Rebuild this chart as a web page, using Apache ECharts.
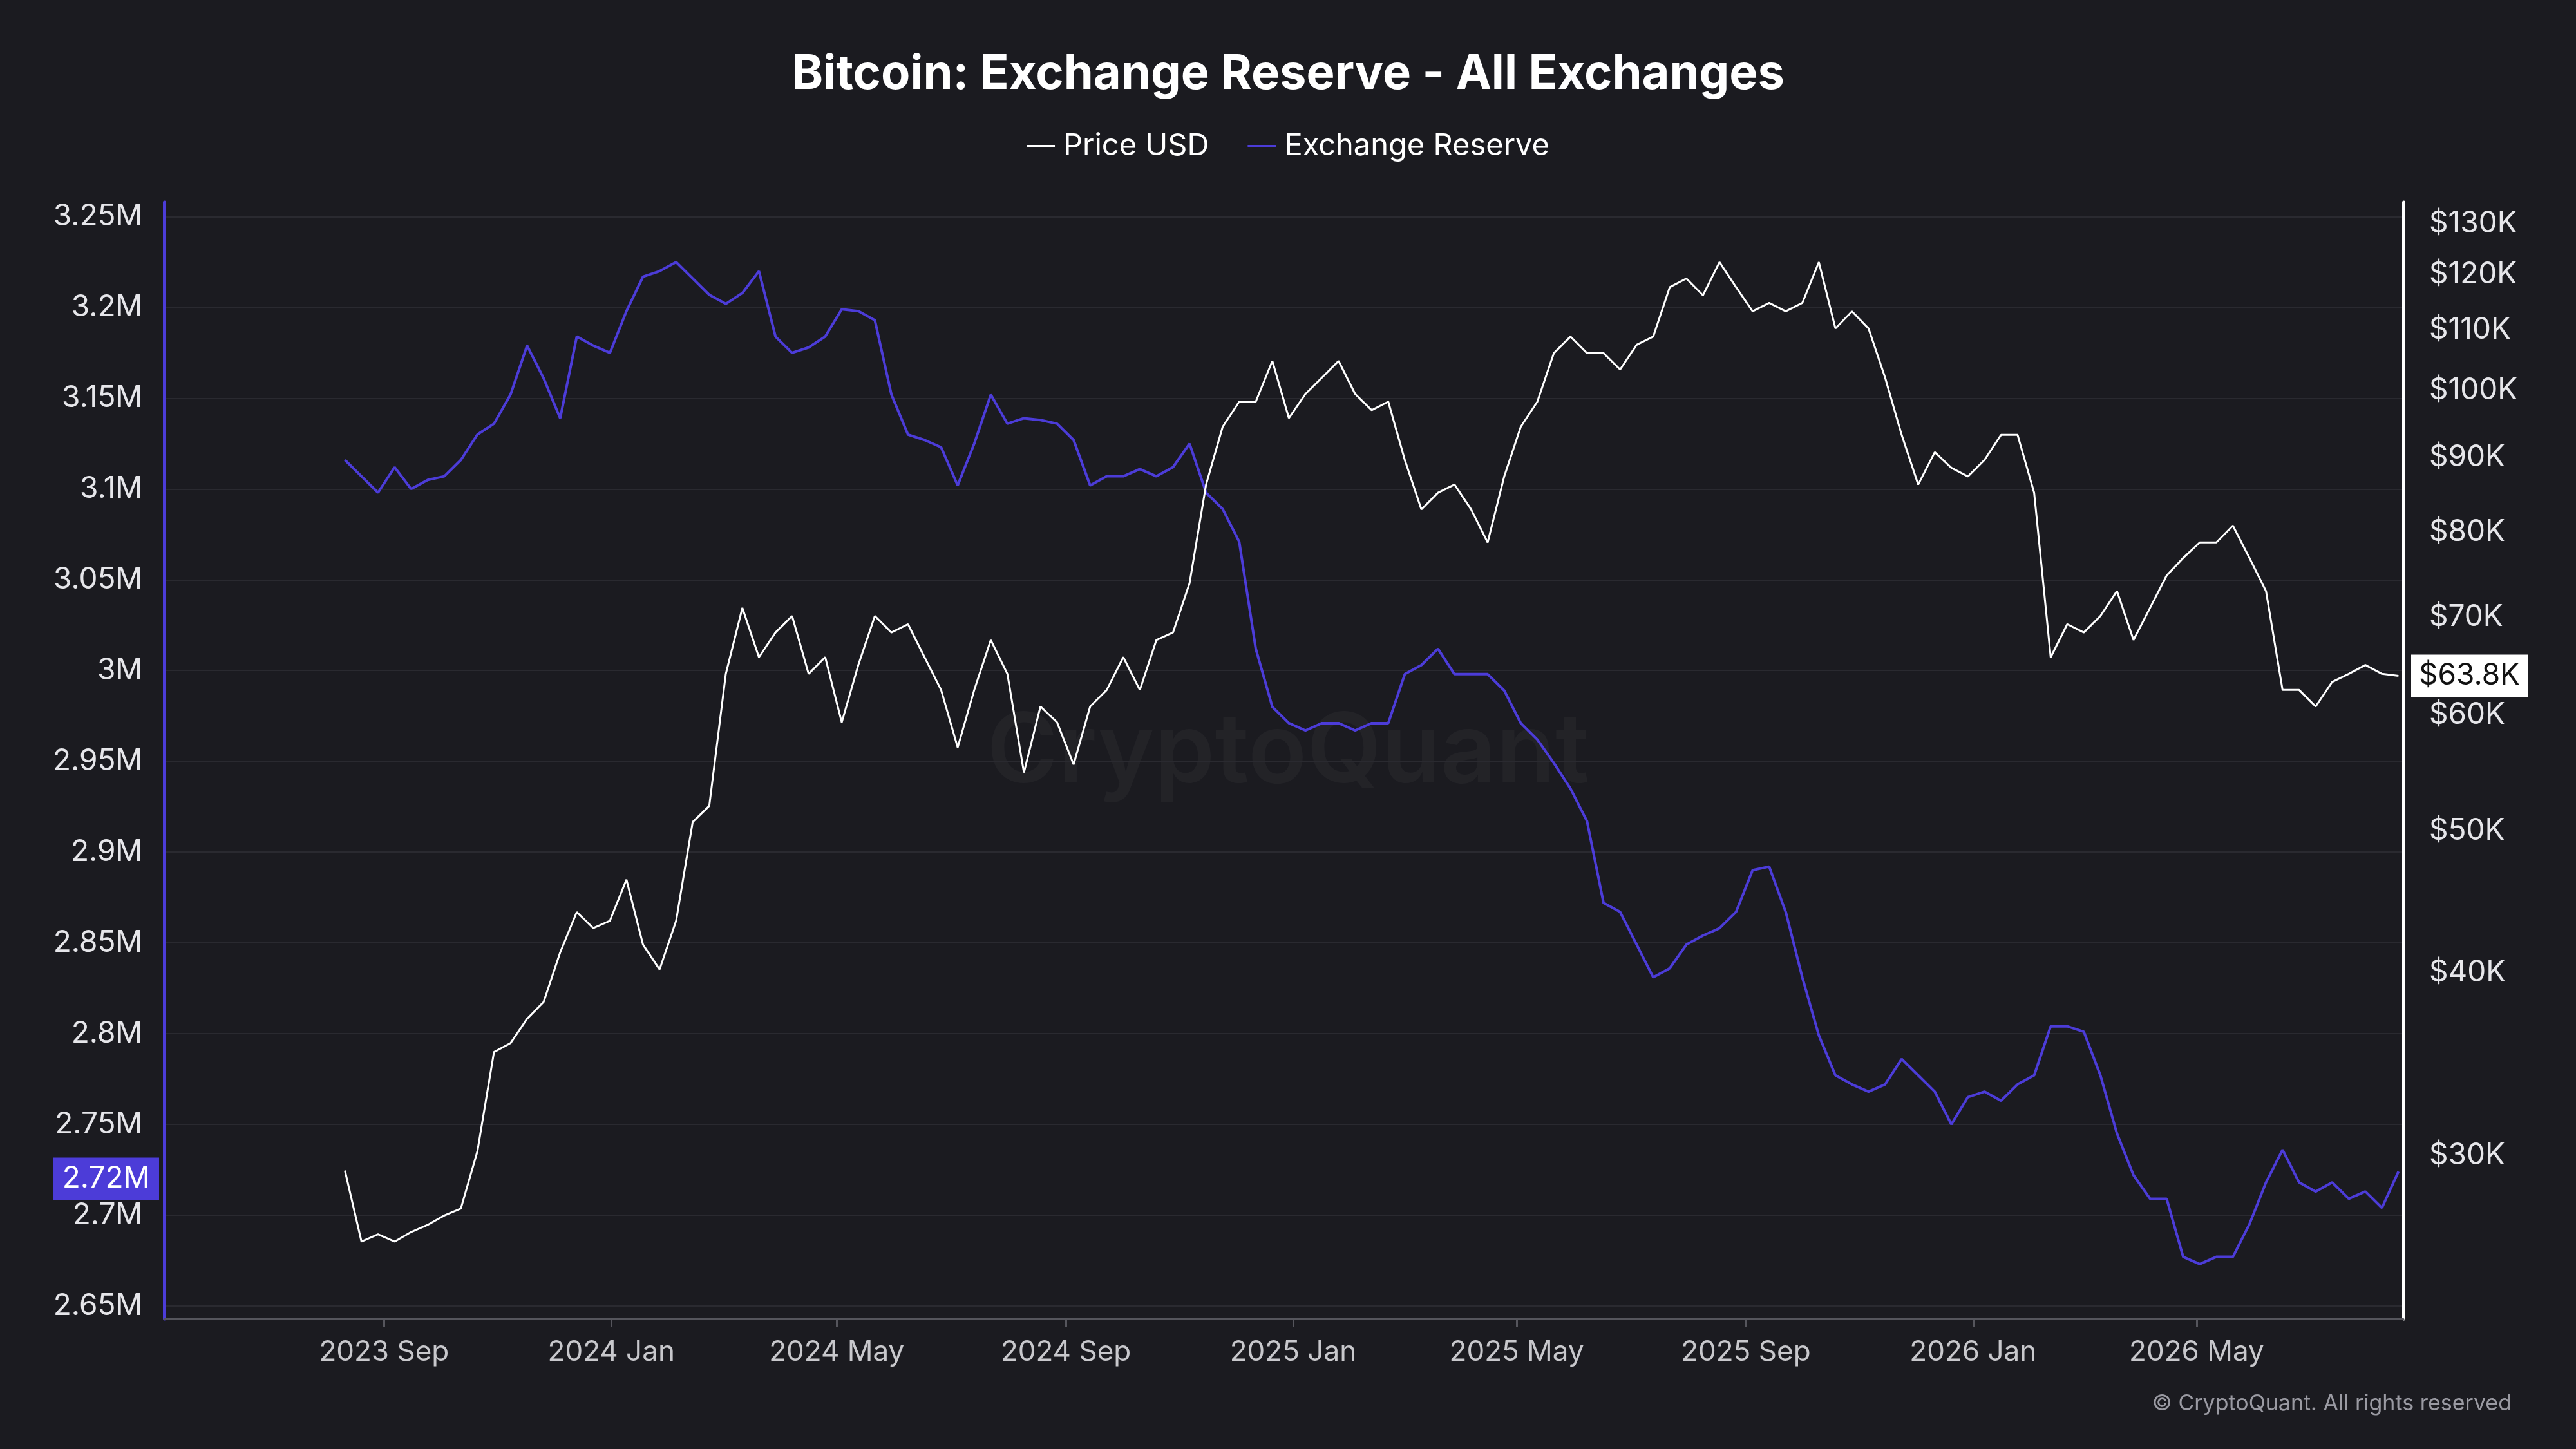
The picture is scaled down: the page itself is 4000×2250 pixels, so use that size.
<!DOCTYPE html>
<html><head><meta charset="utf-8">
<script src="https://cdn.jsdelivr.net/npm/echarts@6/dist/echarts.min.js"></script>
<style>html,body{margin:0;background:#1b1b20}#c{width:4000px;height:2250px}</style>
</head><body><div id="c"></div>
<script>
const startDate = '2023-08-11';
const stepDays = 8.89;
const priceUSD_K = [29.3,26.2,26.5,26.2,26.6,26.9,27.3,27.6,30.2,35.3,35.8,37.2,38.2,41.3,44.0,42.9,43.4,46.3,41.8,40.2,43.4,50.7,52.0,64.0,71.0,65.7,68.3,70.1,64.0,65.7,59.3,64.9,70.1,68.3,69.2,65.7,62.4,57.0,62.4,67.5,64.0,54.8,60.8,59.3,55.5,60.8,62.4,65.7,62.4,67.5,68.3,73.8,86.2,94.4,98.2,98.2,104.7,95.7,99.4,102.0,104.7,99.4,96.9,98.2,89.6,82.9,85.1,86.2,82.9,78.7,87.3,94.4,98.2,106.0,108.8,106.0,106.0,103.3,107.4,108.8,117.6,119.2,116.1,122.3,117.6,113.2,114.7,113.2,114.7,122.3,110.2,113.2,110.2,102.0,93.2,86.2,90.7,88.5,87.3,89.6,93.2,93.2,85.1,65.7,69.2,68.3,70.1,72.9,67.5,71.0,74.7,76.8,78.7,78.7,80.8,76.8,72.9,62.4,62.4,60.8,63.2,64.0,64.9,64.0,63.8];
const reserveM = [3.116,3.107,3.098,3.112,3.100,3.105,3.107,3.116,3.130,3.136,3.152,3.179,3.161,3.139,3.184,3.179,3.175,3.198,3.217,3.220,3.225,3.216,3.207,3.202,3.208,3.220,3.184,3.175,3.178,3.184,3.199,3.198,3.193,3.152,3.130,3.127,3.123,3.102,3.125,3.152,3.136,3.139,3.138,3.136,3.127,3.102,3.107,3.107,3.111,3.107,3.112,3.125,3.098,3.089,3.071,3.012,2.980,2.971,2.967,2.971,2.971,2.967,2.971,2.971,2.998,3.003,3.012,2.998,2.998,2.998,2.989,2.971,2.962,2.949,2.935,2.917,2.872,2.867,2.849,2.831,2.836,2.849,2.854,2.858,2.867,2.890,2.892,2.867,2.831,2.799,2.777,2.772,2.768,2.772,2.786,2.777,2.768,2.750,2.765,2.768,2.763,2.772,2.777,2.804,2.804,2.801,2.777,2.745,2.722,2.709,2.709,2.677,2.673,2.677,2.677,2.695,2.718,2.736,2.718,2.713,2.718,2.709,2.713,2.704,2.724];
const xTickLabels = ['2023-09-01','2024-01-01','2024-05-01','2024-09-01','2025-01-01','2025-05-01','2025-09-01','2026-01-01','2026-05-01'];
const leftTicks = [2.65,2.7,2.75,2.8,2.85,2.9,2.95,3.0,3.05,3.1,3.15,3.2,3.25];
const rightTicks = [30000,40000,50000,60000,70000,80000,90000,100000,110000,120000,130000];
const months = ['Jan','Feb','Mar','Apr','May','Jun','Jul','Aug','Sep','Oct','Nov','Dec'];

const t0 = Date.parse(startDate+'T00:00:00Z');
const dates = priceUSD_K.map((_, i) => t0 + i*stepDays*86400000);
const priceData = priceUSD_K.map((v,i)=>[dates[i], v*1000]);
const resData = reserveM.map((v,i)=>[dates[i], v]);
const xTicks = xTickLabels.map(d=>Date.parse(d+'T00:00:00Z'));
const lastPrice = priceUSD_K[priceUSD_K.length-1]*1000;
const lastRes = reserveM[reserveM.length-1];
const FONT = 'Inter';
const chart = echarts.init(document.getElementById('c'));
chart.setOption({
  animation:false,
  backgroundColor:'#1b1b20',
  textStyle:{fontFamily:FONT},
  title:{text:'Bitcoin: Exchange Reserve - All Exchanges',left:'center',top:74,
    textStyle:{color:'#ffffff',fontSize:74,fontWeight:'bold',fontFamily:FONT}},
  legend:{top:198,left:'center',itemWidth:44,itemHeight:3,itemGap:60,icon:'rect',
    textStyle:{color:'#ffffff',fontSize:47,fontFamily:FONT,padding:[0,0,0,8]},
    data:[{name:'Price USD',itemStyle:{color:'#ffffff'}},{name:'Exchange Reserve',itemStyle:{color:'#4c3cd8'}}]},
  grid:{left:255,right:268,top:314,bottom:202},
  graphic:[
    {type:'text',left:'center',top:1095,style:{text:'CryptoQuant',fill:'rgba(255,255,255,0.035)',font:'600 150px Inter'}},
    {type:'text',right:100,top:2163,style:{text:'© CryptoQuant. All rights reserved',fill:'#9a9aa2',font:'34px Inter'}}
  ],
  xAxis:{type:'value',min:Date.parse('2023-05-06T00:00:00Z'),max:Date.parse('2026-08-20T00:00:00Z'),
    axisLine:{show:true,lineStyle:{color:'#55555c',width:3}},
    axisTick:{show:true,customValues:xTicks,length:12,lineStyle:{color:'#55555c',width:3}},
    splitLine:{show:false},
    axisLabel:{customValues:xTicks,color:'#c8c8cc',fontSize:44,margin:30,
      formatter:v=>{const d=new Date(v);return d.getUTCFullYear()+' '+months[d.getUTCMonth()];}}},
  yAxis:[
    {type:'value',position:'left',min:2.6428,max:3.258,
      axisLine:{show:true,lineStyle:{color:'#4c3cd8',width:5}},
      axisTick:{show:false,customValues:leftTicks},
      splitLine:{show:true,lineStyle:{color:'#2a2a30',width:2}},
      axisLabel:{customValues:leftTicks,color:'#e6e6ea',fontSize:46,margin:34,
        formatter:v=>(+v.toFixed(2))+'M'}},
    {type:'log',position:'right',min:23200,max:134400,
      axisLine:{show:true,lineStyle:{color:'#ffffff',width:5}},
      axisTick:{show:false},splitLine:{show:false},
      axisLabel:{customValues:rightTicks,color:'#e6e6ea',fontSize:46,margin:40,
        formatter:v=>'$'+Math.round(v/1000)+'K'}}
  ],
  series:[
    {name:'Price USD',type:'line',yAxisIndex:1,data:priceData,showSymbol:false,
      lineStyle:{color:'#ffffff',width:3},itemStyle:{color:'#ffffff'},z:3,
      markLine:{symbol:'none',silent:true,lineStyle:{color:'rgba(0,0,0,0)',width:1,type:'solid'},
        data:[{yAxis:lastPrice,label:{show:true,position:'end',distance:12,backgroundColor:'#ffffff',color:'#111',
          fontSize:46,fontFamily:FONT,padding:[10,12],formatter:'$'+(lastPrice/1000).toFixed(1)+'K'}}]}},
    {name:'Exchange Reserve',type:'line',yAxisIndex:0,data:resData,showSymbol:false,
      lineStyle:{color:'#4c3cd8',width:4},itemStyle:{color:'#4c3cd8'},z:2,
      markLine:{symbol:'none',silent:true,lineStyle:{color:'rgba(0,0,0,0)',width:1,type:'solid'},
        data:[{yAxis:lastRes,label:{show:true,position:'start',distance:8,backgroundColor:'#4c3cd8',color:'#fff',
          fontSize:46,fontFamily:FONT,padding:[10,14],formatter:lastRes.toFixed(2)+'M'}}]}}
  ]
});
</script></body></html>
